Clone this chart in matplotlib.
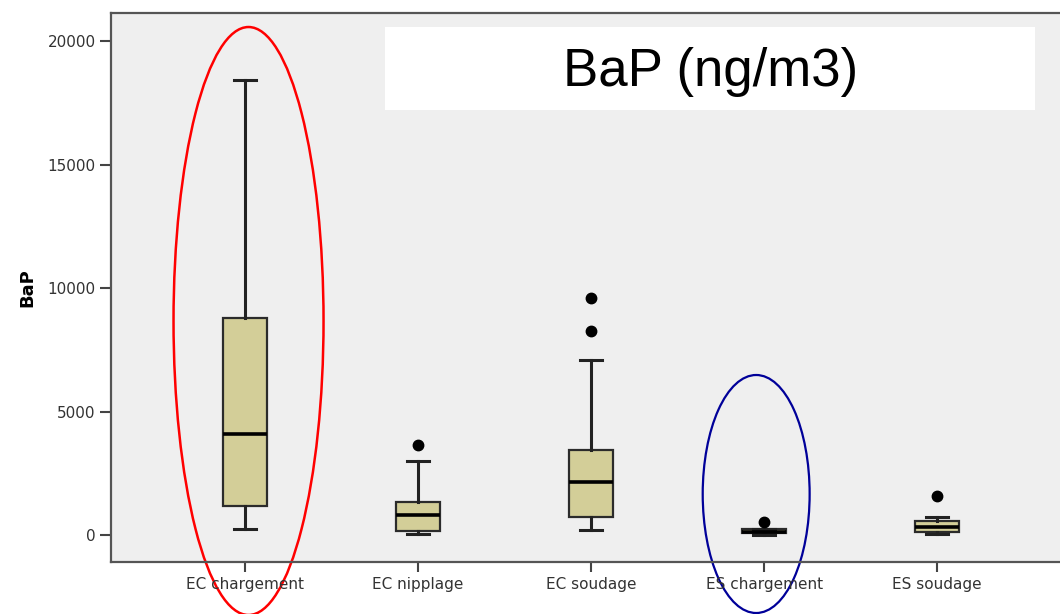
import numpy as np
import matplotlib.pyplot as plt
from matplotlib.patches import Ellipse, Rectangle

# values (ng/m3)
groups = ['EC chargement', 'EC nipplage', 'EC soudage', 'ES chargement', 'ES soudage']
whislo = [230, 50, 190, 20, 50]
q1 = [1170, 160, 740, 70, 110]
med = [4090, 810, 2130, 130, 340]
q3 = [8790, 1350, 3430, 230, 580]
whishi = [18420, 3000, 7100, 260, 720]
fliers = [[], [3640], [9580, 8270], [510], [1580]]

stats = []
for i, g in enumerate(groups):
    stats.append(dict(label=g, whislo=whislo[i], q1=q1[i], med=med[i],
                      q3=q3[i], whishi=whishi[i], fliers=fliers[i]))

fig = plt.figure(figsize=(10.6, 6.14), dpi=100)
ax = fig.add_axes([0.1047, 0.0847, 0.8953, 0.8941])
ax.set_facecolor('#efefef')

pos = np.arange(len(groups))
ax.bxp(stats, positions=pos, widths=0.254, capwidths=0.13, patch_artist=True,
       boxprops=dict(facecolor='#d3ce98', edgecolor='#2b2b2b', linewidth=1.6),
       medianprops=dict(color='black', linewidth=2.6),
       whiskerprops=dict(color='#222222', linewidth=2.2),
       capprops=dict(color='#222222', linewidth=2.2),
       flierprops=dict(marker='o', markerfacecolor='black', markeredgecolor='black',
                       markersize=7.5))

ax.set_xlim(-0.775, 4.71)
ax.set_ylim(-1093, 21134)
ax.set_yticks([0, 5000, 10000, 15000, 20000])
ax.set_xticks(pos)
ax.set_xticklabels(groups)
ax.tick_params(axis='y', direction='out', length=8, width=1.5, color='#444444',
               labelsize=11, labelcolor='#333333', pad=3)
ax.tick_params(axis='x', direction='out', length=7, width=1.5, color='#444444',
               labelsize=11, labelcolor='#333333', pad=4)
for s in ['left', 'bottom', 'top']:
    ax.spines[s].set_color('#555555')
    ax.spines[s].set_linewidth(1.6)
ax.spines['right'].set_visible(False)

ax.set_ylabel('BaP', fontsize=13, fontweight='bold', labelpad=8)

# highlight ellipses
ax.add_patch(Ellipse((0.02, 8664), 0.867, 23806, fill=False, edgecolor='red',
                     linewidth=1.8, clip_on=False))
ax.add_patch(Ellipse((2.954, 1660), 0.618, 9636, fill=False, edgecolor='#000099',
                     linewidth=1.6, clip_on=False))

# title box
fig.add_artist(Rectangle((0.3632, 0.8208), 0.6132, 0.1352, transform=fig.transFigure,
                         facecolor='white', edgecolor='none'))
fig.text(0.67, 0.883, 'BaP (ng/m3)', ha='center', va='center', fontsize=38,
         family='Liberation Sans')

fig.savefig('out.png', dpi=100)
